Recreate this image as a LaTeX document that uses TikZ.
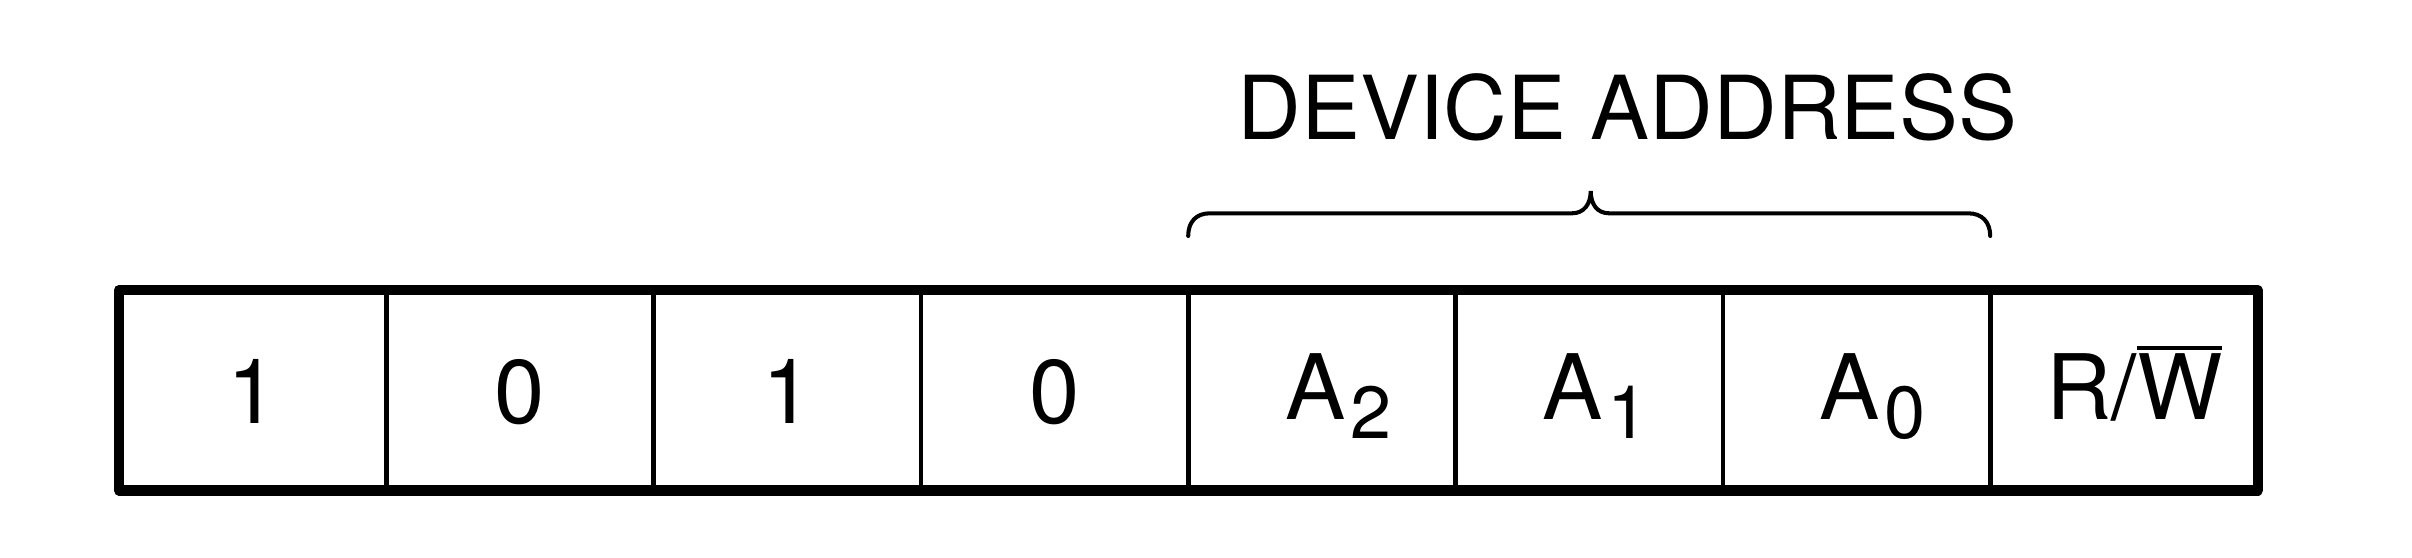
\documentclass[tikz,border=0pt]{standalone}
\usepackage{fontspec}
\setmainfont{TeX Gyre Heros}
\newlength\ovw
\newcommand\ovl[1]{\settowidth\ovw{#1}\rlap{\rule[0.78em]{\ovw}{0.035em}}#1}
\newcommand\sbs[1]{\kern1.2pt{\fontsize{21pt}{24pt}\selectfont\raisebox{-5.4pt}{#1}}}
\begin{document}
\begin{tikzpicture}[x=0.01cm,y=-0.01cm,
  lbl/.style={inner sep=0pt,font=\fontsize{25.7pt}{30pt}\selectfont},
  titlelbl/.style={inner sep=0pt,font=\fontsize{25.1pt}{30pt}\selectfont},
  frame/.style={line width=2.85pt,line join=round,line cap=round},
  divider/.style={line width=1.3pt},
  bracepath/.style={line width=1.15pt,line cap=round}]
\useasboundingbox (0,0) rectangle (2412,558);
% cell boundary coordinates
\foreach \i/\x in {0/119,1/386.3,2/653.6,3/921,4/1188.2,5/1455.6,6/1722.9,7/1990.2,8/2257.5}{
  \coordinate (t\i) at (\x,290);
  \coordinate (b\i) at (\x,490.5);
}
% dividers
\foreach \i in {1,...,7}{\draw[divider] (t\i) -- (b\i);}
% frame
\draw[frame] (t0) rectangle (b8);
% labels
\node[lbl,anchor=base] (d7) at (252.6,424) {1};
\node[lbl,anchor=base] (d6) at (520,424) {0};
\node[lbl,anchor=base] (d5) at (787.3,424) {1};
\node[lbl,anchor=base] (d4) at (1054.6,424) {0};
\node[lbl,anchor=base west] (a2) at (1285,420) {A\sbs{2}};
\node[lbl,anchor=base west] (a1) at (1542,420) {A\sbs{1}};
\node[lbl,anchor=base west] (a0) at (1819,420) {A\sbs{0}};
\node[lbl,anchor=base west] (rw) at (2046,420) {R/\ovl{W}};
% brace
\draw[bracepath] (t4|-0,236) .. controls (1188.2,222) and (1196,213.3) .. (1210,213.3)
  -- (1572,213.3) .. controls (1584,213.3) and (1590.7,204) .. (1590.7,191)
  .. controls (1590.7,204) and (1597,213.3) .. (1609,213.3)
  -- (1968,213.3) .. controls (1982,213.3) and (1990.2,222) .. (t7|-0,236);
\node[titlelbl,anchor=base] (title) at (1627.5,140) {DEVICE ADDRESS};
\end{tikzpicture}
\end{document}
